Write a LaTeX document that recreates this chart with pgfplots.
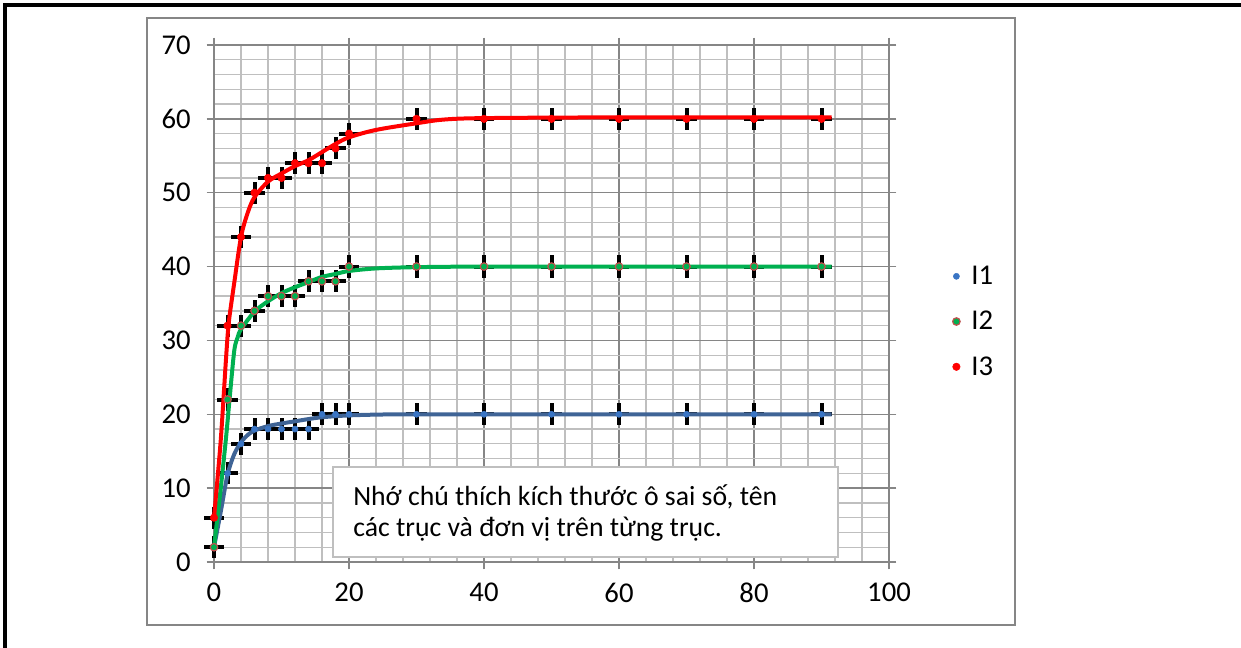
\documentclass[border=0pt]{standalone}
\usepackage{fontspec}
\setmainfont{Carlito}
\usepackage{pgfplots}
\pgfplotsset{compat=1.18}
\usepackage{pgfplotstable}
\definecolor{gmaj}{RGB}{134,134,134}
\definecolor{gmin}{RGB}{191,191,191}
\definecolor{bmark}{RGB}{58,117,196}
\definecolor{bline}{RGB}{63,100,150}
\definecolor{gline}{RGB}{0,176,80}
\definecolor{gedge}{RGB}{192,80,77}
\definecolor{rline}{RGB}{255,0,0}

\pgfplotstableread{
x  y
0  2
2  12
4  16
6  18
8  18
10 18
12 18
14 18
16 20
18 20
20 20
30 20
40 20
50 20
60 20
70 20
80 20
90 20
}\dataA
\pgfplotstableread{
x  y
0  2
2  22
4  32
6  34
8  36
10 36
12 36
14 38
16 38
18 38
20 40
30 40
40 40
50 40
60 40
70 40
80 40
90 40
}\dataB
\pgfplotstableread{
x  y
0  6
2  32
4  44
6  50
8  52
10 52
12 54
14 54
16 54
18 56
20 58
30 60
40 60
50 60
60 60
70 60
80 60
90 60
}\dataC
\pgfplotstableread{
x    y
0    2
1    6.8
2    11.8
3    14.6
4    16.2
5    17.2
6    17.8
8    18.4
10   18.75
12   19.05
14   19.35
16   19.6
20   19.85
25   19.97
30   20
50   20
70   20
91.5 20
}\fitA
\pgfplotstableread{
x    y
0    2
1    10
1.8  17
2.3  22
3    28.6
3.5  30.4
4    31.5
6    33.9
8    35.3
10   36.4
12   37.2
14   37.9
16   38.6
18   39.0
20   39.4
24   39.75
30   39.92
40   40
60   40
91.5 40
}\fitB
\pgfplotstableread{
x    y
0    6
1    16.5
1.8  27.8
2.2  32.5
3    37.8
4    44
5    47.3
6    49.4
8    51.5
10   52.6
12   53.6
14   54.4
16   55.5
18   56.6
20   57.5
24   58.5
30   59.4
34   59.9
40   60.1
60   60.2
91.5 60.2
}\fitC

\begin{document}
\begin{tikzpicture}
\begin{scope}[x=0.75pt,y=0.75pt]
\useasboundingbox (0,0) rectangle (1241,648);
% outer frame
\draw[black, line width=3pt] (5.3,0) -- (5.3,643.3) -- (1241,643.3);
% chart area
\draw[gmaj, line width=1.2pt] (147,23) rectangle (1015,630);
\end{scope}
\begin{axis}[
  at={(160.5pt,64.5pt)}, anchor=south west,
  scale only axis, width=506.25pt, height=387.75pt,
  xmin=0, xmax=100, ymin=0, ymax=70,
  xtick={0,20,...,100}, ytick={0,10,...,70},
  minor x tick num=4, minor y tick num=4,
  grid=both,
  major grid style={gmaj, line width=1pt},
  minor grid style={gmin, line width=1pt},
  axis line style={gmaj, line width=1pt},
  tick align=outside,
  major tick length=5.5pt, minor tick length=0pt,
  tick style={gmaj, line width=1pt},
  tick label style={font=\fontsize{21.5}{24}\selectfont},
  /pgf/number format/assume math mode=true,
  yticklabel style={xshift=-8.5pt},
  xticklabel style={yshift=-7pt},
  legend style={at={(1.088,0.465)}, anchor=west, draw=none, fill=none,
     font=\fontsize{21.5}{24}\selectfont, row sep=14.5pt,
     legend cell align=left},
  legend image code/.code={\path[draw=none] (-0.12cm,0) -- (0.06cm,0);
     \path[#1, draw=none] plot coordinates {(0cm,0cm)};},
  clip=false,
]
% error bars
\addplot[draw=none, mark=none, forget plot,
  error bars/.cd, x dir=both, x fixed=1.5, y dir=both, y fixed=1.5,
  error mark=none, error bar style={draw=black, line width=3pt}]
  table[x=x,y=y] {\dataA};
\addplot[draw=none, mark=none, forget plot,
  error bars/.cd, x dir=both, x fixed=1.5, y dir=both, y fixed=1.5,
  error mark=none, error bar style={draw=black, line width=3pt}]
  table[x=x,y=y] {\dataB};
\addplot[draw=none, mark=none, forget plot,
  error bars/.cd, x dir=both, x fixed=1.5, y dir=both, y fixed=1.5,
  error mark=none, error bar style={draw=black, line width=3pt}]
  table[x=x,y=y] {\dataC};
% fitted curves
\addplot[bline, line width=3pt, smooth, tension=0.5, mark=none, forget plot] table[x=x,y=y] {\fitA};
\addplot[gline, line width=3pt, smooth, tension=0.5, mark=none, forget plot] table[x=x,y=y] {\fitB};
\addplot[rline, line width=3pt, smooth, tension=0.5, mark=none, forget plot] table[x=x,y=y] {\fitC};
% markers
\addplot[only marks, mark=*, mark size=2.3pt, mark options={fill=bmark, draw=bmark}] table[x=x,y=y] {\dataA};
\addlegendentry{I1}
\addplot[only marks, mark=*, mark size=2.8pt, mark options={fill=gline, draw=gedge, line width=0.9pt}] table[x=x,y=y] {\dataB};
\addlegendentry{I2}
\addplot[only marks, mark=*, mark size=2.8pt, mark options={fill=rline, draw=rline}] table[x=x,y=y] {\dataC};
\addlegendentry{I3}
\end{axis}
\begin{scope}[x=0.75pt,y=0.75pt]
% annotation box
\draw[gmin, fill=white, line width=1.2pt] (333,91) rectangle (838,181);
\node[anchor=west, align=left, font=\fontsize{20.8}{23.25}\selectfont, inner sep=0pt]
  at (353,135.5) {Nhớ chú thích kích thước ô sai số, tên\\các trục và đơn vị trên từng trục.};
\end{scope}
\end{tikzpicture}
\end{document}
